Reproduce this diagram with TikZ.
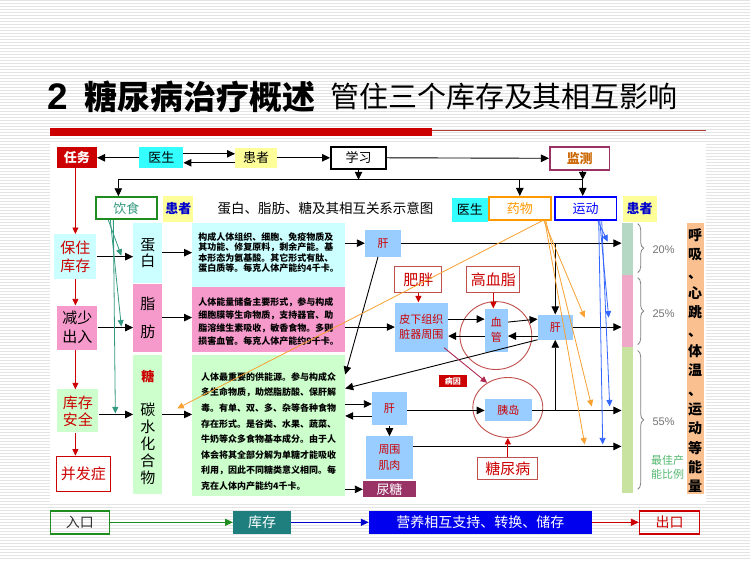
\documentclass[tikz,border=0pt]{standalone}
\usepackage{fontspec}
\setmainfont{Noto Sans CJK SC}
\newfontfamily\latinsans{Liberation Sans}
\usetikzlibrary{arrows.meta,shapes.geometric,decorations.pathreplacing}
\definecolor{taskred}{HTML}{CC0000}
\definecolor{barred}{HTML}{CC0000}
\definecolor{thinred}{HTML}{B04040}
\definecolor{cyanf}{HTML}{33FFFF}
\definecolor{lyel}{HTML}{FFFF99}
\definecolor{lcyan}{HTML}{CCFFFF}
\definecolor{lpink}{HTML}{F59ACB}
\definecolor{lgreen}{HTML}{CCFFCC}
\definecolor{lblue}{HTML}{99CCFF}
\definecolor{purp}{HTML}{993366}
\definecolor{montxt}{HTML}{CC6600}
\definecolor{dgreen}{HTML}{1E8C1E}
\definecolor{grn}{HTML}{339980}
\definecolor{org}{HTML}{F8A030}
\definecolor{orgt}{HTML}{FF9900}
\definecolor{blu}{HTML}{3366FF}
\definecolor{dblue}{HTML}{0000CC}
\definecolor{cred}{HTML}{C0504D}
\definecolor{bar1c}{HTML}{B5D8C5}
\definecolor{bar2c}{HTML}{F0A8C8}
\definecolor{bar3c}{HTML}{C8E3A0}
\definecolor{lorange}{HTML}{FAC090}
\definecolor{teal2}{HTML}{1F7F7F}
\definecolor{nblue}{HTML}{0000EE}
\definecolor{stripe}{HTML}{E4E4E4}
\definecolor{bestg}{HTML}{55B870}
\newcommand\fsz[1]{\fontsize{#1}{#1}\selectfont}
\newcommand\fszb[2]{\fontsize{#1}{#2}\selectfont}
\begin{document}
\begin{tikzpicture}[x=1pt,y=-1pt,
 bx/.style 2 args={inner sep=0pt,minimum width=#1,minimum height=#2},
 arr/.style={-{Triangle[length=8pt,width=7.5pt]}, line width=0.9pt, draw=black},
 garr/.style={-{Triangle[length=6.5pt,width=6pt]}, line width=0.8pt, draw=grn},
 oarr/.style={-{Triangle[length=6.5pt,width=6pt]}, line width=0.8pt, draw=org},
 barr/.style={-{Triangle[length=6.5pt,width=6pt]}, line width=0.8pt, draw=blu},
 rarr/.style={-{Triangle[length=6.5pt,width=6pt]}, line width=0.8pt, draw=taskred},
 desc/.style={inner sep=0pt, align=left, font=\bfseries},
 brc/.style={draw=gray, line width=0.8pt, decorate, decoration={brace, amplitude=6pt}},
]
% background
\fill[white] (0,0) rectangle (750,562);
\foreach \yy in {1,4,...,561} \draw[stripe, line width=1pt] (0,\yy) -- (750,\yy);
\fill[white] (50,143) rectangle (706,503);
\useasboundingbox (0,0) rectangle (750,562);

% title
\node[anchor=west, inner sep=0] (tnum) at (47,97) {\latinsans\bfseries\fsz{37}2};
\node[anchor=west, inner sep=0] (tmain) at (84,97) {\bfseries\fsz{33}糖尿病治疗概述};
\node[anchor=west, inner sep=0] (tsub) at (330,97) {\fsz{29}管住三个库存及其相互影响};
\fill[barred] (50,128) rectangle (432,136);
\draw[thinred, line width=0.8pt] (432,131) -- (706,131);

% top row
\node[bx={40}{21}, fill=taskred, text=white, font=\bfseries\fsz{13}] (task) at (76.5,158) {任务};
\node[bx={44}{21}, fill=cyanf, font=\fsz{13}] (doc1) at (161,158) {医生};
\node[bx={42}{20}, fill=lyel, font=\fsz{13}] (pat1) at (256,158) {患者};
\node[bx={55}{22}, draw=black, line width=2pt, font=\fsz{13}] (learn) at (358.5,158) {学习};
\node[bx={60}{23}, draw=purp, line width=1.6pt, text=montxt, font=\bfseries\fsz{13}] (monitor) at (580,158.5) {监测};

% second row
\node[bx={61}{22}, draw=dgreen, line width=2pt, text=grn, font=\fsz{13}] (diet) at (126,208.5) {饮食};
\node[bx={30}{26}, fill=lyel, text=dblue, font=\bfseries\fsz{13}] (pat2) at (178,209) {患者};
\node[inner sep=0] (cap) at (325.5,209) {\fsz{13.5}蛋白、脂肪、糖及其相互关系示意图};
\node[bx={36}{24}, fill=cyanf, font=\fsz{13}] (doc2) at (470,210) {医生};
\node[bx={62}{23}, draw=orgt, line width=1.6pt, text=orgt, font=\fsz{13}] (drug) at (520,208.5) {药物};
\node[bx={62}{23}, draw=blue, line width=1.6pt, text=blue, font=\fsz{13}] (sport) at (586,208.5) {运动};
\node[bx={34}{26}, fill=lyel, text=dblue, font=\bfseries\fsz{13}] (pat3) at (640,209) {患者};

% left column
\node[bx={42}{45}, fill=lcyan, text=taskred, align=center, font=\fszb{15}{18}] (keep) at (75,257) {保住\\库存};
\node[bx={40}{44}, fill=lpink, align=center, font=\fszb{15}{19}] (reduce) at (77,328) {减少\\出入};
\node[bx={41}{43}, fill=lgreen, text=taskred, align=center, font=\fszb{15}{17}] (safe) at (77.5,411.5) {库存\\安全};
\node[bx={54}{35}, draw=taskred, line width=1.5pt, text=taskred, font=\fsz{15}] (compl) at (83,474.5) {并发症};

% column 2
\node[bx={29}{60}, fill=lcyan, align=center, font=\fszb{15}{16}] (prot) at (147.5,253) {蛋\\白};
\node[bx={29}{68}, fill=lpink, align=center, font=\fszb{15}{28}] (fat) at (147.5,318) {脂\\肪};
\node[bx={29}{140}, fill=lgreen] (carb) at (147.5,425) {};
\node[inner sep=0, text=taskred, font=\bfseries\fsz{13}] (sugar) at (147.5,377) {糖};
\node[inner sep=0, align=center, font=\fszb{15}{17}] (carbt) at (147.5,444) {碳\\水\\化\\合\\物};

% description boxes
\node[bx={153}{64}, fill=lcyan] (ptext) at (268.5,255) {};
\node[desc, font=\bfseries\fszb{9}{10.5}] (ptextc) at (268.5,253) {构成人体组织、细胞、免疫物质及\\其功能、修复原料，剩余产能。基\\本形态为氨基酸。其它形式有肽、\\蛋白质等。每克人体产能约4千卡。};
\node[bx={153}{65}, fill=lpink] (ftext) at (268.5,319.5) {};
\node[desc, font=\bfseries\fszb{9}{13}] (ftextc) at (268.5,322) {人体能量储备主要形式，参与构成\\细胞膜等生命物质，支持器官、助\\脂溶维生素吸收，敏香食物。多则\\损害血管。每克人体产能约9千卡。};
\node[bx={153}{142}, fill=lgreen] (ctext) at (268.5,426) {};
\node[desc, font=\bfseries\fszb{9}{15.6}] (ctextc) at (268.5,432) {人体最重要的供能源。参与构成众\\多生命物质，助燃脂肪酸、保肝解\\毒。有单、双、多、杂等各种食物\\存在形式。是谷类、水果、蔬菜、\\牛奶等众多食物基本成分。由于人\\体会将其全部分解为单糖才能吸收\\利用，因此不同糖类意义相同。每\\克在人体内产能约4千卡。};

% middle nodes
\node[bx={36}{27}, fill=lblue, text=taskred, font=\fsz{11}] (liver1) at (383,243.5) {肝};
\node[bx={47}{26}, draw=cred, line width=1pt, text=taskred, font=\fsz{15}] (obese) at (418.5,280) {肥胖};
\node[bx={53}{26}, draw=cred, line width=1pt, text=taskred, font=\fsz{15}] (hyper) at (493.5,280) {高血脂};
\node[bx={53}{49}, fill=lblue, text=taskred, align=center, font=\fszb{11}{15}] (subq) at (421.5,327.5) {皮下组织\\脏器周围};
\node[bx={23}{43}, fill=lblue, text=taskred, align=center, font=\fszb{11}{15}] (vessel) at (496.5,330.5) {血\\管};
\node[ellipse, draw=cred, line width=0.9pt, minimum width=72, minimum height=68, inner sep=0] (vcirc) at (496,336) {};
\node[bx={35}{25}, fill=lblue, text=taskred, font=\fsz{11}] (liver2) at (555.5,327.5) {肝};
\node[bx={28}{13}, fill=taskred, text=white, font=\bfseries\fsz{8}] (cause) at (453,381.5) {病因};
\node[bx={47}{22}, fill=lblue, text=taskred, font=\fsz{11}] (islet) at (508.5,411) {胰岛};
\node[ellipse, draw=cred, line width=0.9pt, minimum width=70, minimum height=60, inner sep=0] (icirc) at (508,408) {};
\node[bx={60}{22}, draw=cred, line width=1pt, text=taskred, font=\fsz{15}] (dm) at (508,469) {糖尿病};
\node[bx={35}{33}, fill=lblue, text=taskred, font=\fsz{11}] (liver3) at (389.5,409.5) {肝};
\node[bx={47}{43}, fill=lblue, text=taskred, align=center, font=\fszb{11}{16}] (muscle) at (389.5,458.5) {周围\\肌肉};
\node[bx={53}{16}, fill=purp, text=white, font=\fsz{13}] (usugar) at (389.5,490) {尿糖};

% right side
\node[bx={11}{52}, fill=bar1c] (bar1) at (627.5,249) {};
\node[bx={11}{72}, fill=bar2c] (bar2) at (627.5,311) {};
\node[bx={11}{147}, fill=bar3c] (bar3) at (627.5,420.5) {};
\draw[brc] (638,224) -- (638,273);
\draw[brc] (638,278) -- (638,345);
\draw[brc] (638,351) -- (638,490);
\node[text=gray!90!black, font=\latinsans\fsz{11}, inner sep=0] (p20) at (664,250) {20\%};
\node[text=gray!90!black, font=\latinsans\fsz{11}, inner sep=0] (p25) at (664,314) {25\%};
\node[text=gray!90!black, font=\latinsans\fsz{11}, inner sep=0] (p55) at (664,422) {55\%};
\node[text=bestg, align=center, font=\fszb{11}{14}, inner sep=0] (best) at (668,468) {最佳产\\能比例};
\node[bx={17}{272}, fill=lorange] (energy) at (695.5,359) {};
\node[inner sep=0, align=center, font=\bfseries\fszb{14}{19.4}] (energyt) at (695.5,361) {呼\\吸\\、\\心\\跳\\、\\体\\温\\、\\运\\动\\等\\能\\量};

% bottom row
\node[bx={59}{23}, draw=dgreen, line width=1.5pt, text=black!80, font=\fsz{14}] (entry) at (79.5,523) {入口};
\node[bx={58}{23}, fill=teal2, text=white, font=\fsz{14}] (store) at (262,523) {库存};
\node[bx={223}{23}, fill=nblue, text=white, font=\fsz{14}] (nutr) at (480.5,523) {营养相互支持、转换、储存};
\node[bx={60}{23}, draw=taskred, line width=1.5pt, text=taskred, font=\fsz{14}] (exit) at (670,523) {出口};

% ---- connectors ----
% top
\draw[arr] (doc1.west) -- (task.east);
\draw[arr] ([yshift=4pt]doc1.east) -- ([yshift=4pt]pat1.west);
\draw[arr] ([yshift=-5pt]pat1.west) -- ([yshift=-5pt]doc1.east);
\draw[arr] (pat1.east) -- (learn.west);
\draw[arr] (learn.east) -- (monitor.west);
\coordinate (jL) at (118,180);
\coordinate (jR) at (583,180);
\draw[line width=0.9pt] (jL) -- (jR);
\draw[arr] (learn.south) -- (learn.south |- jL);
\draw[arr] (monitor.south -| jR) -- (jR);
\draw[arr] (jL) -- (jL |- diet.north);
\draw[arr] (drug.north |- jL) -- (drug.north);
\draw[arr] (jR) -- (jR |- sport.north);

% left red chain
\draw[rarr] (keep.north |- task.south) -- (keep.north);
\draw[rarr] (keep.south) -- (keep.south |- reduce.north);
\draw[rarr] (reduce.south -| keep.south) -- (keep.south |- safe.north);
\draw[rarr] (safe.south -| keep.south) -- (keep.south |- compl.north);

% to column 2
\draw[arr] (keep.east) -- (keep.east -| prot.west);
\draw[arr] (reduce.east) -- (reduce.east -| fat.west);
\coordinate (cy) at (0,415);
\draw[arr] (safe.east |- cy) -- (carb.west |- cy);
% diet green arrows
\coordinate (g1) at (121,256);
\coordinate (g2) at (121,327);
\coordinate (g3) at (115,414);
\draw[garr] ([xshift=-18pt]diet.south) -- (g1);
\draw[garr] ([xshift=-16pt]diet.south) -- (g2);
\draw[garr] ([xshift=-13pt]diet.south) -- (g3);

% column 2 to descriptions
\draw[arr] (prot.east) -- (prot.east -| ptext.west);
\draw[arr] (fat.east) -- (fat.east -| ftext.west);
\draw[arr] (carb.east |- cy) -- (ctext.west |- cy);

% descriptions to middle
\draw[arr] (ptext.east |- liver1.west) -- (liver1.west);
\draw[arr] (ftext.east |- subq.west) -- (subq.west);
\draw[arr] ([yshift=5pt]ctext.east |- liver3.west) -- ([yshift=5pt]liver3.west);
\draw[arr] ([yshift=-7pt]liver3.west) -- ([yshift=-7pt]liver3.west -| ctext.east);
\draw[arr] (ctext.east |- usugar.west) -- (usugar.west);
\draw[arr] ([xshift=-5pt]liver1.south) -- ([yshift=51pt]ctext.east);
\draw[arr] (liver2.south west) -- ([yshift=37pt]ctext.east);

% middle network
\draw[arr] (liver1.east) -- (liver1.east -| bar1.west);
\draw[rarr, line width=1pt] (obese.south) -- (obese.south |- subq.north);
\draw[rarr, line width=1pt] (hyper.south) -- (hyper.south |- vessel.north);
\draw[arr] ([yshift=8pt]subq.east) -- ([yshift=8pt]subq.east -| vessel.west);
\draw[arr] ([yshift=8pt]vessel.east -| vessel.east) -- ([yshift=8pt]subq.east -| liver2.west);
\draw[arr] ([yshift=-9pt]subq.east -| liver2.west) -- ([yshift=-9pt]subq.east -| vessel.east);
\draw[arr] ([yshift=-9pt]subq.east -| vessel.west) -- ([yshift=-9pt]subq.east);
\draw[arr] (liver2.east) -- (liver2.east -| bar2.west);
\draw[arr] (liver2.north |- liver1.east) -- (liver2.north);
\draw[arr] (liver2.south |- islet.east) -- (liver2.south);
\draw[arr] (liver3.east |- islet.west) -- (islet.west);
\draw[line width=0.9pt] (islet.east) -- (islet.east -| bar3.west);
\draw[arr] (islet.east -| icirc.east) -- (islet.east -| bar3.west);
\draw[arr] (liver3.south) -- (muscle.north);
\draw[arr] ([yshift=11.5pt]muscle.east) -- ([yshift=11.5pt]muscle.east -| bar3.west);
\draw[-{Triangle[length=6.5pt,width=6pt]}, line width=0.9pt, draw=purp!80!red] ([xshift=-4pt,yshift=4pt]subq.south east) -- (icirc.130);
\draw[rarr, line width=1pt] (dm.north) -- (icirc.south);

% orange lines from drug
\coordinate (o1) at (177,409);
\coordinate (o2) at (585,318);
\coordinate (o3) at (592,407);
\coordinate (o4) at (585,445);
\draw[oarr] ([xshift=23pt]drug.south) -- (o1);
\draw[oarr] ([xshift=24pt]drug.south) -- (o2);
\draw[oarr] ([xshift=26pt]drug.south) -- (o3);
\draw[oarr] ([xshift=25pt]drug.south) -- (o4);

% blue lines from sport
\coordinate (b1) at (608,242);
\coordinate (b2) at (609,318);
\coordinate (b3) at (610,407);
\coordinate (b4) at (603,445);
\draw[barr] ([xshift=12pt]sport.south) -- (b1);
\draw[barr] ([xshift=14pt]sport.south) -- (b2);
\draw[barr] ([xshift=16pt]sport.south) -- (b3);
\draw[barr] ([xshift=13pt]sport.south) -- (b4);

% bottom
\draw[-{Triangle[length=8pt,width=7pt]}, line width=1.2pt, draw=dgreen] (entry.east) -- (store.west);
\draw[-{Triangle[length=8pt,width=7pt]}, line width=1.2pt, draw=dblue] (store.east) -- (nutr.west);
\draw[-{Triangle[length=8pt,width=7pt]}, line width=1.2pt, draw=taskred] (nutr.east) -- (exit.west);
\end{tikzpicture}
\end{document}
